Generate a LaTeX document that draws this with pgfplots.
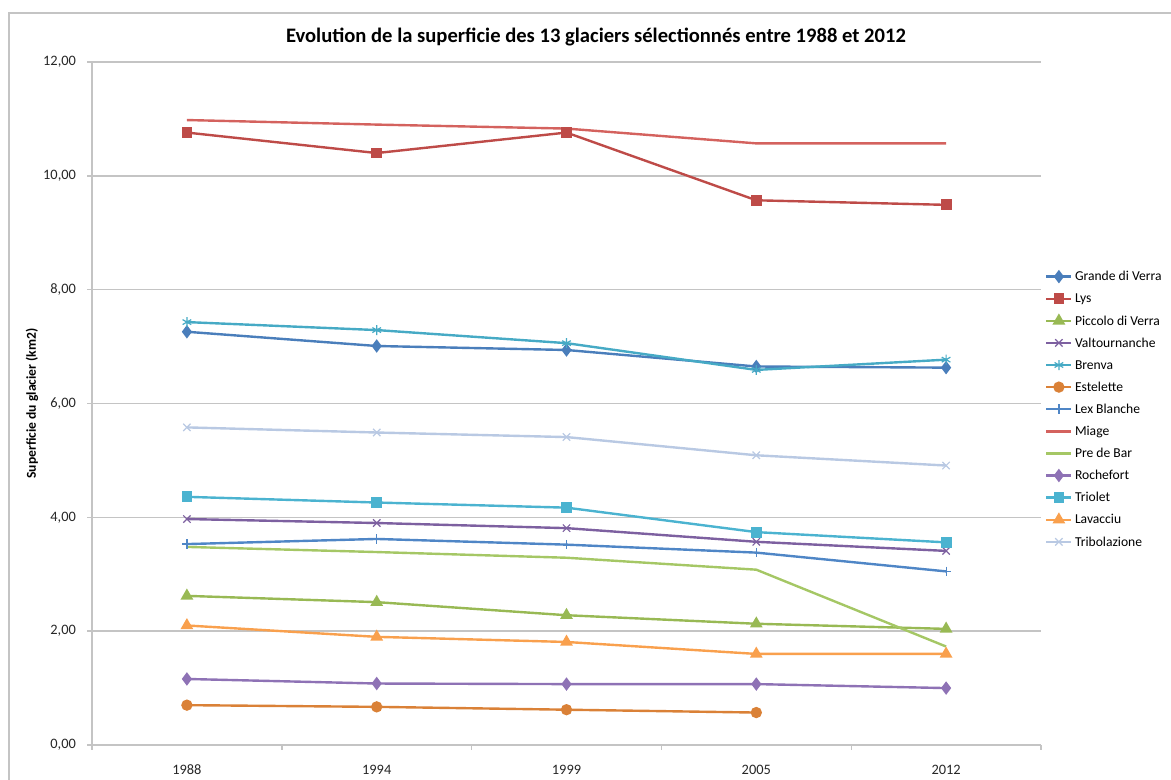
\documentclass[border=0pt]{standalone}
\usepackage{pgfplots}
\pgfplotsset{compat=1.18}
\usepackage{fontspec}
\setmainfont{Carlito}

\definecolor{cGrande}{HTML}{4A7EBB}
\definecolor{cLys}{HTML}{BE4B48}
\definecolor{cPiccolo}{HTML}{98B954}
\definecolor{cValt}{HTML}{7D60A0}
\definecolor{cBrenva}{HTML}{46AAC5}
\definecolor{cEstel}{HTML}{DA8137}
\definecolor{cLex}{HTML}{4F86C6}
\definecolor{cMiage}{HTML}{D4625E}
\definecolor{cPre}{HTML}{A5C765}
\definecolor{cRoche}{HTML}{8E72B5}
\definecolor{cTriolet}{HTML}{4BB3D0}
\definecolor{cLavac}{HTML}{F9A04D}
\definecolor{cTribo}{HTML}{B9C9E3}
\definecolor{gridgray}{HTML}{C4C4C4}

\begin{document}
\begin{tikzpicture}
\useasboundingbox (0,0) rectangle (585.5pt,390pt);
\draw[gridgray, line width=0.7pt] (4.5pt,0) -- (4.5pt,383.5pt) -- (585.5pt,383.5pt);

\begin{axis}[
  scale only axis, width=474.5pt, height=341.5pt,
  at={(46pt,17.5pt)}, anchor=south west,
  xmin=-0.5, xmax=4.5, ymin=0, ymax=12,
  xtick={0,1,2,3,4},
  xticklabels={1988,1994,1999,2005,2012},
  minor xtick={-0.5,0.5,1.5,2.5,3.5,4.5},
  ytick={0,2,...,12},
  minor ytick={0,2,...,12},
  major tick length=0pt, minor tick length=2.5pt,
  tick align=outside,
  tick style={draw=gridgray, line width=0.7pt},
  axis x line*=bottom, axis y line*=left,
  axis line style={-, draw=gridgray, line width=0.8pt},
  ymajorgrids, major grid style={draw=gridgray, line width=0.7pt},
  ticklabel style={font=\fontsize{7.2}{8.6}\selectfont, text=black!85},
  xticklabel style={yshift=-6.5pt},
  yticklabel style={xshift=-4.5pt, /pgf/number format/.cd, fixed, fixed zerofill, precision=2, use comma, assume math mode=true},
  every axis plot/.append style={line width=1.2pt},
  legend cell align=left,
  legend style={at={(1.004,0.7013)}, anchor=north west, draw=none, fill=white,
    inner sep=0pt, row sep=0.85pt,
    font=\fontsize{6.8}{8}\selectfont,
    nodes={inner sep=1.2pt, text height=6pt, text depth=1.8pt}},
  legend image code/.code={\draw[mark repeat=2, mark phase=2] plot coordinates {(0pt,0pt) (6.25pt,0pt) (12.5pt,0pt)};},
]
\addplot[cGrande, mark=diamond*, mark size=2.4pt, mark options={solid, fill=cGrande}]
  coordinates {(0,7.26) (1,7.01) (2,6.94) (3,6.65) (4,6.63)};
\addlegendentry{Grande di Verra}
\addplot[cLys, mark=square*, mark size=2.1pt, mark options={solid, fill=cLys}]
  coordinates {(0,10.76) (1,10.40) (2,10.76) (3,9.57) (4,9.49)};
\addlegendentry{Lys}
\addplot[cPiccolo, mark=triangle*, mark size=2.5pt, mark options={solid, fill=cPiccolo}]
  coordinates {(0,2.62) (1,2.51) (2,2.28) (3,2.13) (4,2.04)};
\addlegendentry{Piccolo di Verra}
\addplot[cValt, mark=x, mark size=2.6pt, mark options={solid, line width=0.6pt}]
  coordinates {(0,3.97) (1,3.90) (2,3.81) (3,3.57) (4,3.41)};
\addlegendentry{Valtournanche}
\addplot[cBrenva, mark=asterisk, mark size=2.5pt, mark options={solid, line width=0.6pt}]
  coordinates {(0,7.43) (1,7.29) (2,7.06) (3,6.59) (4,6.77)};
\addlegendentry{Brenva}
\addplot[cEstel, mark=*, mark size=2.2pt, mark options={solid, fill=cEstel}]
  coordinates {(0,0.70) (1,0.67) (2,0.62) (3,0.57)};
\addlegendentry{Estelette}
\addplot[cLex, mark=+, mark size=2.4pt, mark options={solid, line width=0.6pt}]
  coordinates {(0,3.53) (1,3.62) (2,3.52) (3,3.38) (4,3.05)};
\addlegendentry{Lex Blanche}
\addplot[cMiage, no markers]
  coordinates {(0,10.98) (1,10.90) (2,10.83) (3,10.57) (4,10.57)};
\addlegendentry{Miage}
\addplot[cPre, no markers]
  coordinates {(0,3.48) (1,3.39) (2,3.29) (3,3.08) (4,1.73)};
\addlegendentry{Pre de Bar}
\addplot[cRoche, mark=diamond*, mark size=2.4pt, mark options={solid, fill=cRoche}]
  coordinates {(0,1.16) (1,1.08) (2,1.07) (3,1.07) (4,1.00)};
\addlegendentry{Rochefort}
\addplot[cTriolet, mark=square*, mark size=2.1pt, mark options={solid, fill=cTriolet}]
  coordinates {(0,4.36) (1,4.26) (2,4.17) (3,3.74) (4,3.56)};
\addlegendentry{Triolet}
\addplot[cLavac, mark=triangle*, mark size=2.5pt, mark options={solid, fill=cLavac}]
  coordinates {(0,2.10) (1,1.90) (2,1.81) (3,1.60) (4,1.60)};
\addlegendentry{Lavacciu}
\addplot[cTribo, mark=x, mark size=2.6pt, mark options={solid, line width=0.6pt}]
  coordinates {(0,5.58) (1,5.49) (2,5.41) (3,5.09) (4,4.91)};
\addlegendentry{Tribolazione}
\end{axis}

\node[font=\bfseries\fontsize{10.3}{12}\selectfont] at (298pt,371.5pt)
  {Evolution de la superficie des 13 glaciers sélectionnés entre 1988 et 2012};
\node[font=\bfseries\fontsize{6.8}{8}\selectfont, rotate=90] at (16pt,188.25pt)
  {Superficie du glacier (km2)};
\end{tikzpicture}
\end{document}
